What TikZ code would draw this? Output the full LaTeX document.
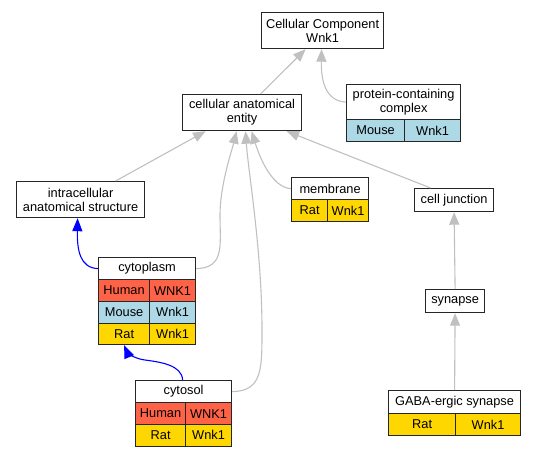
\documentclass[tikz,border=0pt]{standalone}
\usepackage{fontspec}
\setmainfont{Liberation Sans}
\usetikzlibrary{arrows.meta}
\definecolor{human}{HTML}{FF6347}
\definecolor{mouse}{HTML}{ADD8E6}
\definecolor{rat}{HTML}{FFD700}
\definecolor{edgegray}{HTML}{C0C0C0}
\tikzset{
  cell/.style={draw=black!85, line width=1.2pt, rectangle, anchor=north west, inner sep=0pt,
    align=center, font=\fontsize{12.8}{14}\selectfont, fill=white},
  gedge/.style={draw=edgegray, line width=1.1pt, arrows={-Stealth[inset=0pt,length=12.5pt,width=10pt]}},
  bedge/.style={draw=blue, line width=1.1pt, arrows={-Stealth[inset=0pt,length=13pt,width=10pt]}},
}
\newcommand{\cellat}[7]{% name, x1, y1, x2, y2, fill, text
  \node[cell, fill=#6, minimum width={(#4-#2)*1pt}, minimum height={(#5-#3)*1pt}] (#1) at (#2,#3) {#7};}
\begin{document}
\begin{tikzpicture}[x=1pt,y=-1pt]
\useasboundingbox (0,0) rectangle (535,456);
% nodes
\cellat{cc}{261}{12}{383}{48}{white}{Cellular Component\\Wnk1}
\cellat{cae}{182}{94}{301}{130}{white}{cellular anatomical\\entity}
\cellat{pcc}{346}{84}{460}{119}{white}{protein-containing\\complex}
\cellat{pccA}{346}{119}{404}{141}{mouse}{Mouse}
\cellat{pccB}{404}{119}{460}{141}{mouse}{Wnk1}
\cellat{ias}{16}{181}{144}{217}{white}{intracellular\\anatomical structure}
\cellat{cyto}{98}{257}{195}{279}{white}{cytoplasm}
\cellat{cytoHa}{98}{279}{149}{301}{human}{Human}
\cellat{cytoHb}{149}{279}{195}{301}{human}{WNK1}
\cellat{cytoMa}{98}{301}{149}{322.5}{mouse}{Mouse}
\cellat{cytoMb}{149}{301}{195}{322.5}{mouse}{Wnk1}
\cellat{cytoRa}{98}{322.5}{149}{344}{rat}{Rat}
\cellat{cytoRb}{149}{322.5}{195}{344}{rat}{Wnk1}
\cellat{csol}{135}{380}{231}{402}{white}{cytosol}
\cellat{csolHa}{135}{402}{185}{424}{human}{Human}
\cellat{csolHb}{185}{402}{231}{424}{human}{WNK1}
\cellat{csolRa}{135}{424}{185}{445.5}{rat}{Rat}
\cellat{csolRb}{185}{424}{231}{445.5}{rat}{Wnk1}
\cellat{mem}{291}{177}{368}{199}{white}{membrane}
\cellat{memA}{291}{199}{327}{221}{rat}{Rat}
\cellat{memB}{327}{199}{368}{221}{rat}{Wnk1}
\cellat{cj}{414}{188}{493}{211}{white}{cell junction}
\cellat{syn}{425}{289}{484}{312}{white}{synapse}
\cellat{gaba}{388}{390}{520}{413}{white}{GABA-ergic synapse}
\cellat{gabaA}{388}{413}{455}{435}{rat}{Rat}
\cellat{gabaB}{455}{413}{520}{435}{rat}{Wnk1}
% edges
\draw[gedge] ([xshift=18.5pt]cae.north) -- ([xshift=-17pt]cc.south);
\draw[gedge] (pcc.west) .. controls (325,101) and (321,80) .. ([xshift=-1pt]cc.south);
\draw[gedge] ([xshift=35pt]ias.north) -- ([xshift=-36.5pt]cae.south);
\draw[gedge] (cyto.east) .. controls (225,268) and (220,245) .. (220,215)
  .. controls (220,185) and (232,150) .. ([xshift=-5.5pt]cae.south);
\draw[gedge] (csol.east) .. controls (262,391) and (262,370) .. (262,330)
  .. controls (262,250) and (248,170) .. ([xshift=3.5pt]cae.south);
\draw[gedge] (mem.west) .. controls (275,188) and (262,165) .. ([xshift=9.5pt]cae.south);
\draw[gedge] ([xshift=-23.5pt]cj.north) -- ([xshift=44.5pt]cae.south);
\draw[gedge] (syn.north) -- (cj.south);
\draw[gedge] (gaba.north) -- (syn.south);
\draw[bedge] (cyto.west) .. controls (80,268) and (77,250) .. ([xshift=-3pt]ias.south);
\draw[bedge] ([xshift=-1pt]csol.north) .. controls (182,365) and (160,362) .. (145,360)
  .. controls (135,359) and (127,352) .. (cytoRa.south);
\end{tikzpicture}
\end{document}
